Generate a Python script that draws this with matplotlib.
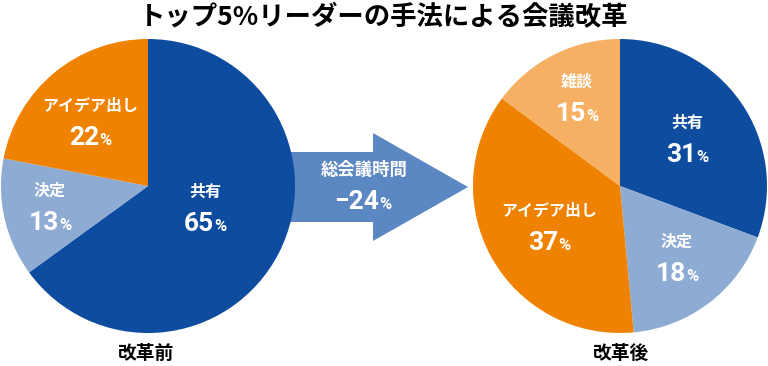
import matplotlib.pyplot as plt
from matplotlib.patches import FancyArrow

# data
before_labels = ['共有', '決定', 'アイデア出し']
before_values = [65, 13, 22]
after_labels = ['共有', '決定', 'アイデア出し', '雑談']
after_values = [31, 18, 37, 15]
title = 'トップ5%リーダーの手法による会議改革'
before_title = '改革前'
after_title = '改革後'
arrow_label = '総会議時間'
arrow_value = '−24'

DARK = '#0d4c9f'
LIGHT = '#8eabd4'
ORANGE = '#ef8200'
PALE = '#f5b063'
ARROW = '#5b87c2'

JP = ['Noto Sans CJK JP', 'DejaVu Sans']
NUM = ['Roboto', 'Noto Sans CJK JP']

W, H = 768, 366
fig = plt.figure(figsize=(W / 100, H / 100), dpi=100)
ax = fig.add_axes([0, 0, 1, 1])

R = 147
c_before = (148, 180)
c_after = (620, 180)

# label anchors (pixel coords from top-left), one per wedge
before_pos = [(205, 207), (50, 206), (90, 121)]
after_pos = [(687, 138), (677, 257), (549, 226), (577, 97)]

# arrow sits behind the pies
ax.add_patch(FancyArrow(290, 179, 178, 0, width=70, head_width=108, head_length=95,
                        length_includes_head=True, color=ARROW, lw=0, zorder=1))

ax.pie(before_values, colors=[DARK, LIGHT, ORANGE], startangle=90,
       counterclock=False, center=c_before, radius=R,
       wedgeprops=dict(linewidth=0, zorder=2))
ax.pie(after_values, colors=[DARK, LIGHT, ORANGE, PALE], startangle=90,
       counterclock=False, center=c_after, radius=R,
       wedgeprops=dict(linewidth=0, zorder=2))

ax.set_xlim(0, W)
ax.set_ylim(0, H)
ax.set_aspect('equal')
ax.axis('off')

renderer = fig.canvas.get_renderer()


def value_text(x, y, num, size=19, pct_size=12):
    # big digits + small percent sign, centered together; y is the baseline
    t1 = ax.text(x, y, num, fontsize=size, family=NUM, weight='bold', color='white',
                 ha='left', va='baseline', zorder=5)
    t2 = ax.text(x, y, '%', fontsize=pct_size, family=NUM, weight='bold', color='white',
                 ha='left', va='baseline', zorder=5)
    w1 = t1.get_window_extent(renderer).width
    w2 = t2.get_window_extent(renderer).width
    gap = 0
    x0 = x - (w1 + w2 + gap) / 2
    t1.set_x(x0)
    t2.set_x(x0 + w1 + gap)


def label_pie(labels, values, positions):
    for lab, val, (px, py) in zip(labels, values, positions):
        y = H - py
        ax.text(px, y + 15, lab, fontsize=11.5, family=JP, weight='bold', color='white',
                ha='center', va='center', zorder=5)
        value_text(px, y - 24, str(val))


label_pie(before_labels, before_values, before_pos)
label_pie(after_labels, after_values, after_pos)

# arrow text
ax.text(364, 196, arrow_label, fontsize=12.5, family=JP, weight='bold', color='white',
        ha='center', va='center', zorder=5)
value_text(363, 157, arrow_value)

ax.text(W / 2, 348, title, fontsize=19, family=JP, weight='bold', color='black',
        ha='center', va='center')
ax.text(c_before[0] - 2, 13, before_title, fontsize=13.5, family=JP, weight='bold',
        ha='center', va='center')
ax.text(c_after[0] + 1, 13, after_title, fontsize=13.5, family=JP, weight='bold',
        ha='center', va='center')

fig.savefig('out.png', dpi=100)
